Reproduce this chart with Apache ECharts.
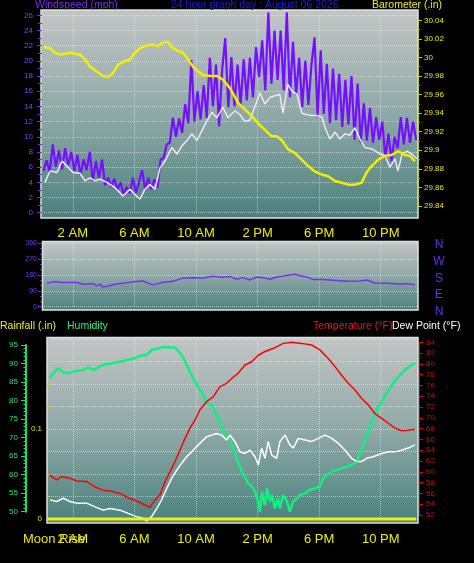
<!DOCTYPE html>
<html><head><meta charset="utf-8">
<script src="https://cdn.jsdelivr.net/npm/echarts@6/dist/echarts.min.js"></script>
<style>html,body{margin:0;padding:0;background:#000;}#c{width:474px;height:563px;}</style>
</head><body><div id="c"></div>
<script>
// ---------- DATA ----------
const hourTicks = [2, 6, 10, 14, 18, 22];
const hourLabels = ['2 AM', '6 AM', '10 AM', '2 PM', '6 PM', '10 PM'];
const dirLetters = ['N', 'W', 'S', 'E', 'N'];

// wind speed (gust) sampled every 0.2 h starting 0.1 h
const gustStart = 0.1, gustStep = 0.2;
const gustValues = [5.5,6.9,5.3,9.0,6.0,8.2,5.7,8.5,6.2,8.0,5.5,7.6,5.0,7.0,5.6,8.0,4.2,6.8,4.6,7.0,
  3.6,4.6,3.4,4.5,3.0,4.0,2.4,3.4,2.6,4.6,2.6,4.0,5.6,3.0,4.6,3.1,4.4,3.3,7.0,7.2,
  9.0,9.2,12.5,10.0,12.4,10.5,14.3,11.8,20.1,12.0,16.0,12.3,16.8,12.5,20.4,14.0,19.5,11.4,18.8,23.0,
  13.9,20.5,14.0,19.5,14.2,20.2,14.8,20.4,15.2,21.8,17.9,22.7,16.1,26.4,17.0,24.0,17.5,24.0,16.1,26.4,
  15.2,22.5,15.5,20.4,13.9,20.0,14.2,19.5,23.1,12.6,21.4,13.0,19.6,11.8,19.0,12.2,18.3,11.3,17.5,11.6,
  18.0,9.6,17.0,9.2,14.4,9.5,13.8,9.2,12.6,9.6,12.0,7.2,10.4,6.8,10.0,8.5,12.6,9.0,12.5,9.2,12.0,9.6];

const windAvgHours = [0.19,0.52,0.97,1.30,1.69,2.01,2.47,2.79,3.12,3.44,3.77,4.22,4.74,5.26,5.71,6.04,6.36,6.69,7.01,7.34,
  7.66,7.99,8.44,8.77,9.09,9.42,9.74,10.06,10.39,10.71,11.04,11.36,11.75,12.08,12.21,12.53,12.86,13.18,13.51,13.83,
  14.16,14.48,14.81,15.13,15.45,15.65,15.97,16.23,16.56,16.88,17.21,17.53,17.86,18.18,18.38,18.70,19.03,19.35,19.68,20.00,
  20.32,20.65,20.97,21.43,21.82,22.27,22.60,22.92,23.12,23.38,23.70,24.03,24.35];
const windAvgValues = [4.0,5.5,5.3,6.8,6.0,5.3,5.2,4.2,4.6,4.2,4.4,4.0,3.3,2.2,3.1,2.4,1.8,3.1,3.7,3.1,
  5.9,6.8,8.6,7.7,8.8,9.5,10.4,9.5,10.8,12.1,13.2,12.5,13.9,12.5,12.8,13.4,12.9,12.0,12.2,14.0,
  15.8,14.3,15.2,15.4,15.6,13.1,16.9,16.0,15.6,13.1,12.9,12.8,12.8,12.6,11.2,9.7,10.6,9.7,10.4,10.2,
  11.2,9.7,8.6,8.4,7.9,7.5,6.0,7.1,5.5,7.7,8.1,7.7,7.1];

const baroHours = [0.13,0.52,0.84,1.17,1.82,2.47,2.79,3.12,3.55,3.96,4.29,4.61,4.94,5.39,5.71,6.04,6.36,6.82,7.21,7.53,
  7.86,8.18,8.51,8.83,9.16,9.48,9.81,10.13,10.45,10.91,11.36,11.75,12.21,12.73,13.18,13.62,14.03,14.48,14.92,15.24,
  15.56,15.99,16.43,16.86,17.29,17.73,18.16,18.59,19.03,19.46,19.89,20.32,20.76,21.08,21.41,21.84,22.27,22.71,23.14,23.57,
  23.90,24.22];
const baroValues = [30.011,30.010,30.005,30.003,30.005,30.003,29.998,29.990,29.985,29.980,29.979,29.983,29.992,29.996,29.998,30.005,30.010,30.013,30.014,30.012,
  30.016,30.017,30.010,30.007,30.005,29.998,29.990,29.985,29.981,29.980,29.980,29.976,29.967,29.951,29.944,29.937,29.929,29.922,29.915,29.915,
  29.911,29.901,29.897,29.890,29.883,29.877,29.874,29.872,29.867,29.865,29.863,29.863,29.865,29.876,29.883,29.890,29.894,29.895,29.899,29.895,
  29.894,29.888];

const dirHours = [0.32,0.71,1.36,2.27,2.66,3.31,3.57,3.77,3.96,4.29,4.74,5.26,5.91,6.56,7.21,7.86,8.51,9.09,9.81,10.45,
  11.04,11.69,12.21,12.66,13.05,13.51,13.96,14.35,14.81,15.26,15.65,16.10,16.43,16.75,17.21,17.60,18.25,18.90,19.81,20.65,
  21.10,21.62,22.40,23.25,23.70,24.22];
const dirValues = [133,141,137,137,128,131,118,128,112,116,128,133,141,146,124,139,144,161,165,161,
  173,167,171,156,165,152,169,165,156,169,173,180,184,176,169,154,154,150,144,146,
  152,135,133,129,131,124];

const humHours = [0.52,0.73,1.06,1.38,1.82,2.14,2.68,3.01,3.33,3.66,4.09,4.53,5.06,5.60,6.04,6.36,6.80,7.12,7.45,7.88,
  8.20,8.64,8.85,9.18,9.50,9.82,10.15,10.47,10.69,11.02,11.23,11.56,11.77,11.99,12.34,12.53,12.73,12.99,13.18,13.38,
  13.64,13.83,14.03,14.16,14.29,14.48,14.61,14.81,14.94,15.13,15.32,15.45,15.65,15.91,16.10,16.30,16.56,16.75,17.08,17.40,
  17.73,18.05,18.25,18.51,18.83,19.16,19.48,19.81,20.13,20.45,20.78,21.10,21.43,21.75,22.08,22.40,22.73,23.05,23.38,23.70,
  24.03,24.22];
const humValues = [86.0,87.4,88.7,87.6,87.4,88.0,88.2,89.0,88.2,89.0,89.8,90.1,90.5,91.0,91.4,92.1,92.3,93.7,93.9,94.5,
  94.3,94.3,93.4,91.6,88.7,86.0,83.7,81.5,79.3,78.8,77.0,74.3,71.6,71.0,68.0,65.8,63.5,60.8,59.5,57.7,
  56.8,55.4,52.7,50.0,55.4,51.8,56.3,52.7,54.5,50.9,53.6,50.9,54.5,52.7,50.0,52.7,53.6,54.5,55.0,55.9,
  56.3,56.8,59.0,59.9,60.8,61.3,61.7,62.1,62.6,63.5,67.1,70.7,74.3,77.5,79.8,82.0,84.2,86.0,87.4,88.7,
  89.6,90.1];

const tempHours = [0.52,0.95,1.28,1.82,2.25,2.90,3.44,3.98,4.53,5.06,5.60,6.15,6.58,7.01,7.34,7.66,7.99,8.31,8.64,8.96,
  9.29,9.61,9.94,10.26,10.69,11.12,11.56,11.99,12.32,12.75,13.18,13.62,14.05,14.48,15.13,15.67,16.21,16.86,17.51,18.05,
  18.59,19.03,19.46,19.89,20.32,20.76,21.19,21.62,22.06,22.49,22.92,23.36,23.79,24.22];
const tempValues = [59.4,58.5,59.1,58.8,58.3,58.2,57.2,56.6,56.4,56.0,55.2,54.6,54.0,53.4,54.8,55.7,58.2,60.0,61.9,64.0,
  66.2,68.1,69.6,71.5,73.0,73.9,75.8,76.4,77.3,78.3,79.8,80.4,81.6,82.3,83.0,83.8,84.0,83.8,83.5,82.6,
  81.0,79.5,77.9,76.4,75.2,73.6,72.4,70.8,69.9,69.0,68.1,67.6,67.7,67.9];

const dewHours = [0.52,0.95,1.38,1.82,2.25,2.90,3.44,3.98,4.42,5.06,5.60,6.15,6.47,6.80,7.12,7.45,7.77,8.10,8.42,8.75,
  9.07,9.40,9.72,10.05,10.37,10.69,11.02,11.34,11.67,11.99,12.21,12.53,12.86,13.18,13.51,13.83,14.05,14.27,14.48,14.69,
  14.92,15.24,15.45,15.78,16.10,16.32,16.64,17.08,17.51,17.94,18.38,18.81,19.24,19.68,20.11,20.44,20.76,21.08,21.51,22.06,
  22.49,22.92,23.36,23.79,24.22];
const dewValues = [54.8,54.5,55.1,54.5,54.2,54.2,53.5,52.9,53.2,52.9,52.3,51.7,51.5,50.9,51.7,53.2,54.8,56.9,58.8,60.3,
  61.6,62.8,63.7,64.7,65.6,66.5,66.8,67.1,66.8,65.9,66.8,65.6,63.7,63.4,64.0,62.8,61.3,64.4,62.5,65.6,
  63.1,62.5,65.6,66.8,65.0,64.4,66.2,65.9,65.6,66.2,66.8,66.2,65.3,64.0,62.5,61.9,61.9,62.5,62.8,63.4,
  63.7,63.7,64.0,64.4,65.0];

const rainHours = [0.33, 6, 12, 18, 24.3];
const rainValues = [0, 0, 0, 0, 0];
const moonEventHours = [6.67, 20.99];
const moonMarkerTop = 0.0156, moonMarkerBottom = -0.004;

// ---------- BUILD ----------
const pairs = (hs, vs) => hs.map((h, i) => [h, vs[i]]);
const gustData = gustValues.map((v, i) => [+(gustStart + i * gustStep).toFixed(2), v]);
const FONT = 'Liberation Sans';
const dotted = { show: true, lineStyle: { color: 'rgba(235,240,240,0.55)', type: 'dotted', width: 1 } };
const hourFmt = v => { const i = hourTicks.indexOf(Math.round(v)); return i >= 0 ? hourLabels[i] : ''; };

function xAx(grid, min, showLabels, split) {
  return {
    type: 'value', gridIndex: grid, min: min, max: 24.42,
    axisLine: { show: false, onZero: false },
    axisTick: { show: false, customValues: hourTicks },
    axisLabel: { show: showLabels, customValues: hourTicks, formatter: hourFmt, color: '#eeee00',
      fontSize: 13, fontFamily: FONT, margin: 14 },
    splitLine: split ? dotted : { show: false }
  };
}

const option = {
  backgroundColor: '#000',
  animation: false,
  grid: [
    { left: 42, right: 56, top: 15.3, bottom: 350.3 },
    { left: 42, right: 56, top: 20.3, bottom: 357 },
    { left: 42, right: 56, top: 243.3, bottom: 256.3 },
    { left: 47, right: 56, top: 345, bottom: 51.3 },
    { left: 47, right: 56, top: 342.3, bottom: 48 },
    { left: 47, right: 56, top: 339, bottom: 44 }
  ],
  xAxis: [
    xAx(0, 0, true, true),
    xAx(1, 0, false, false),
    xAx(2, 0, false, true),
    xAx(3, 0.325, false, false),
    xAx(4, 0.325, false, false),
    xAx(5, 0.325, true, true)
  ],
  yAxis: [
    { type: 'value', gridIndex: 0, min: 0, max: 26, interval: 2,
      axisLine: { show: false, onZero: false },
      axisTick: { show: true, length: 5, lineStyle: { color: '#7030e0' } },
      minorTick: { show: true, splitNumber: 2, length: 4, lineStyle: { color: '#7030e0' } },
      axisLabel: { color: '#8040ff', fontSize: 8, fontFamily: FONT, margin: 9 },
      splitLine: dotted },
    { type: 'value', gridIndex: 1, position: 'right', min: 29.84, max: 30.04, interval: 0.02,
      axisLine: { show: true, onZero: false, lineStyle: { color: '#c8c800', type: 'dashed', width: 1 } },
      axisTick: { show: true, length: 4, lineStyle: { color: '#c8c800' } },
      minorTick: { show: true, splitNumber: 2, length: 2, lineStyle: { color: '#a0a000' } },
      axisLabel: { color: '#e8e800', fontSize: 8, fontFamily: FONT, margin: 6,
        formatter: v => String(parseFloat(v.toFixed(2))) },
      splitLine: { show: false } },
    { type: 'value', gridIndex: 2, min: 0, max: 360, interval: 90,
      axisLine: { show: false, onZero: false },
      axisTick: { show: true, length: 4, lineStyle: { color: '#7030e0' } },
      minorTick: { show: true, splitNumber: 3, length: 2, lineStyle: { color: '#7030e0' } },
      axisLabel: { color: '#7a30f0', fontSize: 7, fontFamily: FONT, margin: 5 },
      splitLine: dotted },
    { type: 'value', gridIndex: 3, position: 'left', offset: 21, min: 50, max: 95, interval: 5,
      axisLine: { show: true, onZero: false, lineStyle: { color: '#10e070', width: 2 } },
      axisTick: { show: true, length: 5, lineStyle: { color: '#10e070' } },
      minorTick: { show: true, splitNumber: 5, length: 2.5, lineStyle: { color: '#10e070' } },
      axisLabel: { color: '#20e080', fontSize: 8, fontFamily: FONT, margin: 8 },
      splitLine: { show: false } },
    { type: 'value', gridIndex: 4, position: 'right', offset: 1, min: 52, max: 84, interval: 2,
      axisLine: { show: true, onZero: false, lineStyle: { color: '#e00000', type: 'dotted', width: 1 } },
      axisTick: { show: true, length: 4, lineStyle: { color: '#e00000' } },
      axisLabel: { color: '#e00000', fontSize: 8, fontFamily: FONT, margin: 7 },
      splitLine: { show: false } },
    { type: 'value', gridIndex: 5, min: 0, max: 0.2, interval: 0.025,
      axisLine: { show: false, onZero: false },
      axisTick: { show: true, inside: true, length: 3, lineStyle: { color: '#d8d800' } },
      axisLabel: { color: '#e0e000', fontSize: 8, fontFamily: FONT, margin: 5,
        formatter: v => Math.abs(v) < 1e-9 ? '0' : (Math.abs(v - 0.1) < 1e-9 ? '0.1' : '') },
      splitLine: dotted }
  ],
  series: [
    { type: 'line', name: 'Windspeed', xAxisIndex: 0, yAxisIndex: 0, data: gustData,
      showSymbol: false, clip: false, lineStyle: { color: '#7410ff', width: 2.2 } },
    { type: 'line', name: 'Wind avg', xAxisIndex: 0, yAxisIndex: 0, data: pairs(windAvgHours, windAvgValues),
      showSymbol: false, clip: false, lineStyle: { color: '#ece6f6', width: 1.5 } },
    { type: 'line', name: 'Barometer', xAxisIndex: 1, yAxisIndex: 1, data: pairs(baroHours, baroValues),
      showSymbol: false, clip: false, lineStyle: { color: '#f0f000', width: 2.5 } },
    { type: 'line', name: 'Direction', xAxisIndex: 2, yAxisIndex: 2, data: pairs(dirHours, dirValues),
      showSymbol: false, clip: false, lineStyle: { color: '#7a2ff0', width: 1.5 } },
    { type: 'line', name: 'Humidity', xAxisIndex: 3, yAxisIndex: 3, data: pairs(humHours, humValues),
      showSymbol: false, clip: false, lineStyle: { color: '#10f080', width: 2.5 } },
    { type: 'line', name: 'Temperature', xAxisIndex: 4, yAxisIndex: 4, data: pairs(tempHours, tempValues),
      showSymbol: false, clip: false, lineStyle: { color: '#ff0000', width: 1.5 } },
    { type: 'line', name: 'Dew Point', xAxisIndex: 4, yAxisIndex: 4, data: pairs(dewHours, dewValues),
      showSymbol: false, clip: false, lineStyle: { color: '#ffffff', width: 1.5 } },
    { type: 'line', name: 'Rainfall', xAxisIndex: 5, yAxisIndex: 5, data: pairs(rainHours, rainValues),
      showSymbol: false, clip: false, lineStyle: { color: '#f0f000', width: 3 }, z: 3,
      markLine: { silent: true, symbol: ['none', 'none'], label: { show: false },
        lineStyle: { color: '#1d5a35', width: 3, type: 'solid' },
        data: moonEventHours.map(h => [{ coord: [h, moonMarkerBottom] }, { coord: [h, moonMarkerTop] }]) } }
  ],
  graphic: []
};

const grad = { type: 'linear', x: 0, y: 0, x2: 0, y2: 1,
  colorStops: [{ offset: 0, color: '#c3c5c5' }, { offset: 0.5, color: '#8fa9a7' }, { offset: 1, color: '#4a817d' }] };
const frames = [[41, 10, 377, 208], [42.5, 241.5, 375.5, 68.5], [47, 337.5, 371, 185.5]];
frames.forEach(f => option.graphic.push({ type: 'rect', z: -10, silent: true,
  shape: { x: f[0], y: f[1], width: f[2], height: f[3] },
  style: { fill: grad, stroke: '#dde2e2', lineWidth: 1.5 } }));

function txt(s, x, y, color, size, align) {
  option.graphic.push({ type: 'text', x: x, y: y, silent: true, z: 10,
    style: { text: s, fill: color, font: size + 'px ' + FONT, align: align || 'left', verticalAlign: 'middle' } });
}
txt('Windspeed (mph)', 35, 5.5, '#7a2cf0', 10.5);
txt('24 hour graph day : August 06 2026', 171, 5.5, '#1c1ce8', 10.5);
txt('Barometer (.in)', 372, 5.5, '#f0f000', 10.5);
const letterY = [245, 262, 278.5, 295, 312];
dirLetters.forEach((l, i) => txt(l, 439, letterY[i], '#6a2aea', 12, 'center'));
txt('Rainfall (.in)', 0, 326.5, '#f0f000', 10.5);
txt('Humidity', 67, 326.5, '#20f090', 10.5);
txt('Temperature (°F)', 313, 326.5, '#ff1010', 10.5);
txt('Dew Point (°F)', 392, 326.5, '#ffffff', 10.5);
txt('Moon Rise', 23, 539.5, '#e8e800', 13);

const chart = echarts.init(document.getElementById('c'));
chart.setOption(option);
</script></body></html>
